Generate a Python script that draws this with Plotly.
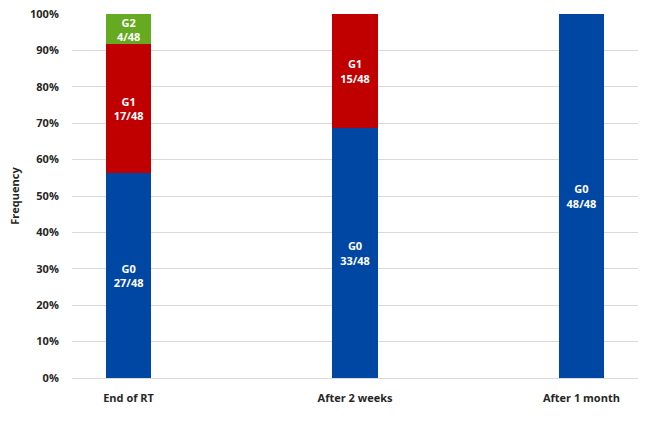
import plotly.graph_objects as go

categories = ["End of RT", "After 2 weeks", "After 1 month"]
total = 48
g0_counts = [27, 33, 48]
g1_counts = [17, 15, 0]
g2_counts = [4, 0, 0]

series = [
    ("G0", g0_counts, "#0047A3"),
    ("G1", g1_counts, "#C00000"),
    ("G2", g2_counts, "#66AA22"),
]

fig = go.Figure()
for name, counts, color in series:
    pct = [100 * c / total for c in counts]
    texts = [f"<b>{name}<br>{c}/{total}</b>" if c > 0 else "" for c in counts]
    fig.add_trace(go.Bar(
        x=categories, y=pct, name=name, marker=dict(color=color, line=dict(width=0)),
        text=texts, textposition="inside", insidetextanchor="middle", textangle=0,
        textfont=dict(color="white", size=11, family="Open Sans"),
        width=0.2, hoverinfo="skip", cliponaxis=False,
    ))

fig.update_layout(
    barmode="stack",
    width=646, height=423,
    margin=dict(l=72, r=8, t=14, b=45),
    paper_bgcolor="white", plot_bgcolor="white",
    showlegend=False,
    uniformtext=dict(minsize=10, mode="show"),
    font=dict(family="Open Sans", color="#404040"),
    xaxis=dict(
        range=[-0.25, 2.25], showgrid=False, showline=False, automargin=False,
        ticks="outside", ticklen=10, tickcolor="rgba(0,0,0,0)",
        tickfont=dict(size=11, family="Open Sans", color="#262626", weight="bold"),
    ),
    yaxis=dict(
        range=[0, 100], dtick=10, ticksuffix="%", showgrid=True, gridcolor="#D9D9D9",
        gridwidth=1, zeroline=True, zerolinecolor="#D9D9D9", zerolinewidth=1, automargin=False,
        ticks="outside", ticklen=10, tickcolor="rgba(0,0,0,0)",
        tickfont=dict(size=11, family="Open Sans", color="#262626", weight="bold"),
        title=dict(text="<b>Frequency</b>", font=dict(size=11, color="#262626", family="Open Sans"), standoff=8),
    ),
)

fig.write_html("out.html", config={"displayModeBar": False, "staticPlot": True},
               post_script="document.body.style.margin='0';document.body.style.overflow='hidden';")
